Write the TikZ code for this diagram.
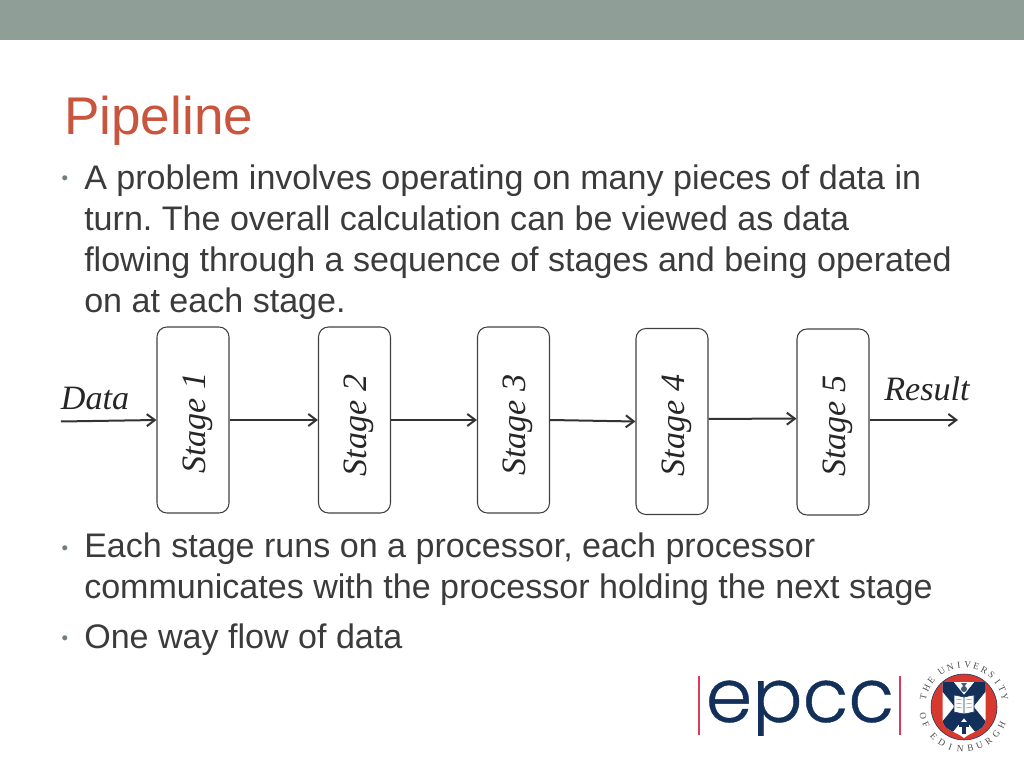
\documentclass[tikz,border=0pt]{standalone}
\usepackage{fontspec}
\setmainfont{Liberation Sans}
\newfontfamily\stagefont{Liberation Serif}
\newfontfamily\logofont{Poppins Light}[FakeBold=0.5]
\definecolor{bandgrey}{HTML}{8F9E97}
\definecolor{titlered}{HTML}{C8553D}
\definecolor{bodygrey}{HTML}{3B3B3B}
\definecolor{navy}{HTML}{12305A}
\definecolor{crestred}{HTML}{D8392F}
\definecolor{pipered}{HTML}{DE3B5C}
\tikzset{
 stagebox/.style={draw=black!75,line width=.8pt,rounded corners=7.5pt,minimum width=54pt,minimum height=139.5pt,inner sep=0pt},
 stagetext/.style={font=\stagefont\itshape\fontsize{25.6}{30}\selectfont,text=black!85,inner sep=0pt},
 flow/.style={->,>={Straight Barb[length=6pt,width=9pt]},line width=1.5pt,draw=black!80},
 bodytext/.style={anchor=base west,align=left,inner sep=0pt,text=bodygrey,font=\frenchspacing\fontsize{25.55}{30.75}\selectfont},
 bulletmark/.style={anchor=base,inner sep=0pt,text=bandgrey!80!black,font=\fontsize{14}{14}\selectfont},
 crestletter/.style={inner sep=0pt,text=black!70,font=\stagefont\fontsize{7}{7}\selectfont},
}
\usetikzlibrary{arrows.meta}
\begin{document}
\begin{tikzpicture}[x=.75pt,y=.75pt]
\useasboundingbox (0,0) rectangle (1024,768);
\fill[bandgrey] (0,728) rectangle (1024,768);
\node[anchor=base west,inner sep=0pt,text=titlered,font=\fontsize{39.8}{40}\selectfont] (title)at(64,633){Pipeline};
% text
\node[bulletmark] (b1)at(65,583){•};
\node[bodytext] (para1)at(84,455.5){A problem involves operating on many pieces of data in\\turn. The overall calculation can be viewed as data\\flowing through a sequence of stages and being operated\\on at each stage.};
\node[bulletmark] (b2)at(65,214){•};
\node[bodytext] (para2)at(84,170){Each stage runs on a processor, each processor\\communicates with the processor holding the next stage};
\node[bulletmark] (b3)at(65,124){•};
\node[bodytext] (para3)at(84,120){One way flow of data};
% stages
\node[stagebox] (s1)at(193,348){};
\node[stagebox] (s2)at(354.5,348){};
\node[stagebox] (s3)at(513.5,348){};
\node[stagebox] (s4)at(672,346.5){};
\node[stagebox] (s5)at(833,346){};
\node[stagetext,rotate=90] (t1)at(197.5,345){Stage 1};
\node[stagetext,rotate=90] (t2)at(359,342.5){Stage 2};
\node[stagetext,rotate=90] (t3)at(518,343){Stage 3};
\node[stagetext,rotate=90] (t4)at(676.5,342.5){Stage 4};
\node[stagetext,rotate=90] (t5)at(837.5,342){Stage 5};
\node[stagetext] (data)at(95,369){Data};
\node[stagetext] (result)at(927,379){Result};
\coordinate (in)at(61,346.5);
\coordinate (out)at(958,348);
\draw[flow] (in) -- (s1.west);
\draw[flow] (s1.east) -- (s2.west);
\draw[flow] (s2.east) -- (s3.west);
\draw[flow] (s3.east) -- (s4.west);
\draw[flow] ([yshift=2pt]s4.east) -- ([yshift=2.5pt]s5.west);
\draw[flow] (s5.east |- out) -- (out);
% logo
\draw[pipered,line width=1.5pt] (699,92) -- (699,33);
\draw[pipered,line width=1.5pt] (900,92) -- (900,33);
\begin{scope}
\clip (700,33) rectangle (899,100);
\node[anchor=base,inner sep=0pt,text=navy,font=\logofont\fontsize{56}{56}\selectfont] (epcc)at(800,46){epcc};
\end{scope}
% crest
\begin{scope}[shift={(964,61)}]
\fill[crestred] (0,0) circle (33);
\draw[navy,line width=.4pt] (0,0) circle (33);
\begin{scope}
\clip (-21.5,25) -- (21.5,25) -- (21.5,-12) .. controls (21.5,-24) and (8,-24) .. (0,-31) .. controls (-8,-24) and (-21.5,-24) .. (-21.5,-12) -- cycle;
\fill[white] (-22,26) rectangle (22,-32);
\draw[navy,line width=11pt] (-21.5,27) -- (21.5,-26);
\draw[navy,line width=11pt] (21.5,27) -- (-21.5,-26);
\end{scope}
% book
\begin{scope}[shift={(0,3)}]
\fill[white] (-10,9) -- (0,7) -- (10,9) -- (10,-8) -- (0,-10) -- (-10,-8) -- cycle;
\draw[navy,line width=.4pt] (-10,9) -- (0,7) -- (10,9) -- (10,-8) -- (0,-10) -- (-10,-8) -- cycle (0,7) -- (0,-10);
\foreach \y in {4,0,-4}{
\draw[navy!70,line width=.3pt] (-8,\y+1) -- (-2,\y);
\draw[navy!70,line width=.3pt] (2,\y) -- (8,\y+1);
}
\end{scope}
% thistle and castle
\fill[navy!80] (0,18) circle (3);
\fill[navy!80] (-3,24) -- (3,24) -- (0,20) -- cycle;
\fill[navy] (-5,-20) rectangle (5,-15);
\fill[navy] (-2,-27) rectangle (2,-20);
\foreach \a/\ch in {166/T,153/H,141/E,122/U,109/N,97/I,85/V,73/E,61/R,49/S,37/I,25/T,14/Y}{
\node[crestletter,rotate=\a-90] (u\ch\a)at(\a:42){\ch};
}
\foreach \a/\ch in {193/O,205/F,224/E,238/D,251/I,265/N,279/B,292/U,306/R,320/G,334/H}{
\node[crestletter,rotate=\a+90] (e\ch\a)at(\a:42){\ch};
}
\end{scope}
\end{tikzpicture}
\end{document}
